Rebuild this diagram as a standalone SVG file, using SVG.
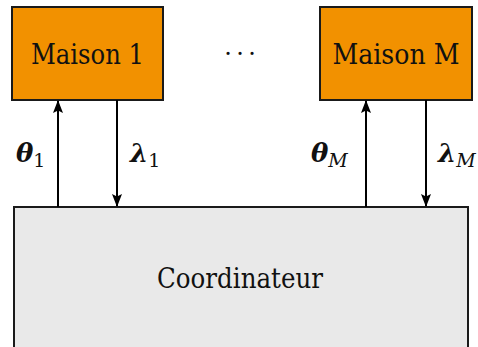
<svg xmlns="http://www.w3.org/2000/svg" width="478" height="347" viewBox="0 0 478 347">
<defs>
<style>
.box{stroke:#1a1a1a;stroke-width:2}
.house{fill:#F29100}
.coord{fill:#E9E9E9}
.con{stroke:#000;stroke-width:2;fill:none}
text{font-family:"DejaVu Serif","Liberation Serif",serif;fill:#111}
.lbl{font-size:27px}
</style>
<marker id="ah" viewBox="0 0 13 10" refX="12" refY="5" markerWidth="13" markerHeight="10" markerUnits="userSpaceOnUse" orient="auto">
<path d="M0,0 L13,5 L0,10 L2.5,5 Z" fill="#000"/>
</marker>
</defs>
<rect width="478" height="347" fill="#fff"/>
<g id="maison1">
<rect class="box house" x="12" y="7" width="151" height="93"/>
<text class="lbl" x="87.5" y="64" text-anchor="middle" textLength="113" lengthAdjust="spacingAndGlyphs">Maison 1</text>
</g>
<g id="dots">
<text font-size="24" x="228 240 252" y="62" text-anchor="middle">···</text>
</g>
<g id="maisonM">
<rect class="box house" x="320" y="7" width="152" height="93"/>
<text class="lbl" x="396" y="64" text-anchor="middle" textLength="127" lengthAdjust="spacingAndGlyphs">Maison M</text>
</g>
<g id="coordinateur">
<rect class="box coord" x="14" y="207" width="454" height="150"/>
<text class="lbl" x="240" y="288" text-anchor="middle" textLength="166" lengthAdjust="spacingAndGlyphs">Coordinateur</text>
</g>
<g id="connectors">
<line class="con" x1="58" y1="207" x2="58" y2="101" marker-end="url(#ah)"/>
<line class="con" x1="117" y1="100" x2="117" y2="206" marker-end="url(#ah)"/>
<line class="con" x1="366" y1="207" x2="366" y2="101" marker-end="url(#ah)"/>
<line class="con" x1="426" y1="100" x2="426" y2="206" marker-end="url(#ah)"/>
</g>
<g id="labels">
<text x="16" y="162"><tspan font-size="26" font-weight="bold" font-style="italic">θ</tspan><tspan font-size="19" dy="5">1</tspan></text>
<text x="130" y="162"><tspan font-size="26" font-weight="bold" font-style="italic">λ</tspan><tspan font-size="19" dy="5">1</tspan></text>
<text x="311" y="162"><tspan font-size="26" font-weight="bold" font-style="italic">θ</tspan><tspan font-size="19" font-style="italic" dy="5">M</tspan></text>
<text x="438" y="162"><tspan font-size="26" font-weight="bold" font-style="italic">λ</tspan><tspan font-size="19" font-style="italic" dy="5">M</tspan></text>
</g>
</svg>
